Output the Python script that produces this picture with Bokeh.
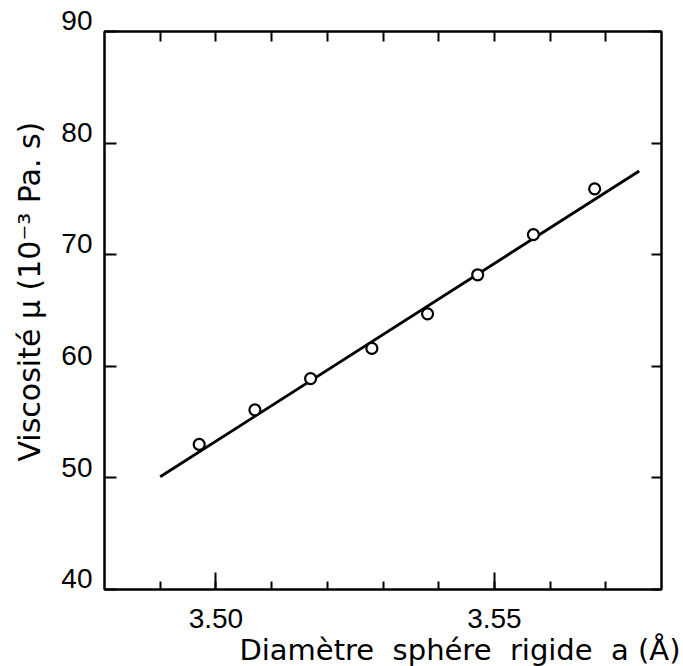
from bokeh.plotting import figure
from bokeh.models import LinearAxis, FixedTicker, Title
from bokeh.embed import file_html
from bokeh.resources import INLINE

# data
diameter = [3.497, 3.507, 3.517, 3.528, 3.538, 3.547, 3.557, 3.568]
viscosity = [53.0, 56.1, 58.9, 61.6, 64.7, 68.2, 71.8, 75.9]
fit_x = [3.490, 3.576]
fit_y = [50.1, 77.5]

x_major = [3.50, 3.55]
x_minor = [3.49, 3.50, 3.51, 3.52, 3.53, 3.54, 3.55, 3.56, 3.57]
y_ticks = [40, 50, 60, 70, 80, 90]
x_labels = {3.50: "3.50", 3.55: "3.55"}

FONT = "Liberation Sans"
TITLE_FONT = "DejaVu Sans"
NB = "\u00a0"

p = figure(width=683, height=666, x_range=(3.48, 3.58), y_range=(40, 90),
           output_backend="svg", toolbar_location=None,
           min_border_left=104, min_border_right=22, min_border_top=31,
           min_border_bottom=76, x_axis_location=None, y_axis_location=None)
p.xgrid.visible = False
p.ygrid.visible = False
p.outline_line_color = "black"
p.outline_line_width = 2
p.background_fill_color = "white"
p.border_fill_color = "white"

def style(ax):
    ax.axis_line_color = "black"
    ax.axis_line_width = 2
    ax.major_tick_line_color = "black"
    ax.major_tick_line_width = 2
    ax.minor_tick_line_color = "black"
    ax.minor_tick_line_width = 2
    ax.major_tick_out = 0
    ax.minor_tick_out = 0
    ax.major_label_text_font = FONT
    ax.major_label_text_font_size = "28px"
    ax.major_label_text_color = "black"

bottom = LinearAxis(ticker=FixedTicker(ticks=x_major, minor_ticks=x_minor))
style(bottom)
bottom.major_tick_in = 17
bottom.minor_tick_in = 8
bottom.major_label_standoff = 19
bottom.major_label_overrides = x_labels
p.add_layout(bottom, "below")

top = LinearAxis(ticker=FixedTicker(ticks=x_minor))
style(top)
top.major_tick_in = 10
top.major_label_overrides = {t: "" for t in x_minor}
top.major_label_text_font_size = "1px"
top.major_label_standoff = 0
p.add_layout(top, "above")

left = LinearAxis(ticker=FixedTicker(ticks=y_ticks))
style(left)
left.major_tick_in = 12
left.major_label_standoff = 12
left.major_label_overrides = {t: f"{t}\n" for t in y_ticks}
left.major_label_text_line_height = 0.7
p.add_layout(left, "left")

right = LinearAxis(ticker=FixedTicker(ticks=y_ticks))
style(right)
right.major_tick_in = 10
right.major_label_overrides = {t: "" for t in y_ticks}
right.major_label_text_font_size = "1px"
right.major_label_standoff = 0
p.add_layout(right, "right")

p.line(fit_x, fit_y, line_color="black", line_width=2.8)
p.scatter(diameter, viscosity, marker="circle", size=11, fill_color="white",
          line_color="black", line_width=2.2)

xtitle = Title(text=f"Diamètre {NB}sphére {NB}rigide {NB}a (Å)", align="right",
               offset=-19, standoff=0, text_font=TITLE_FONT,
               text_font_size="29px", text_font_style="normal",
               text_color="black")
p.add_layout(xtitle, "below")

ytitle = Title(text="Viscosité μ (10⁻³ Pa. s)", align="left", offset=128,
               vertical_align="top", standoff=19, text_font=TITLE_FONT,
               text_font_size="30px", text_font_style="normal",
               text_color="black")
p.add_layout(ytitle, "left")

open("out.html", "w").write(file_html(p, INLINE))
